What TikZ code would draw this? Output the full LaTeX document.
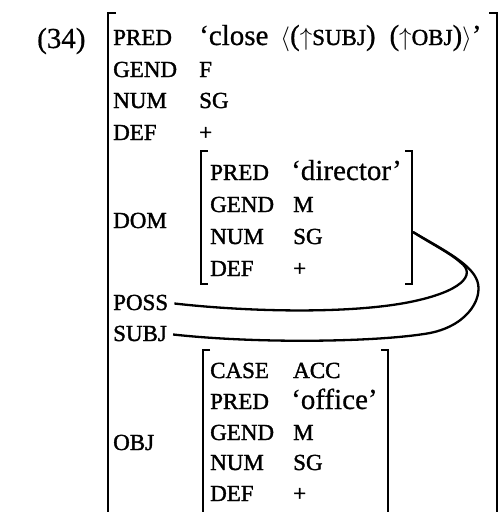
\documentclass[tikz,border=0pt]{standalone}
\usepackage{fontspec}
\setmainfont{Liberation Serif}[FakeBold=0.6]
\newfontfamily\labfont{Liberation Serif}[FakeBold=1.5]
\newcommand{\lab}{\labfont\fontsize{23}{23}\selectfont}
\newcommand{\val}{\fontsize{29}{29}\selectfont}
\begin{document}
\begin{tikzpicture}[x=1pt,y=-1pt,
  attr/.style={anchor=base west,inner sep=0pt,font=\lab},
  vq/.style={anchor=base west,inner sep=0pt,font=\val},
  brk/.style={line width=1.8pt},
  link/.style={line width=2.3pt}]
\useasboundingbox (0,0) rectangle (501,512);
\clip (0,0) rectangle (501,512);

% example number
\node[vq] (num) at (37,48) {(34)};

% outer f-structure brackets
\draw[brk] (116,13) -- (108,13) -- (108,530);
\draw[brk] (489,13) -- (497,13) -- (497,530);

% outer attributes
\node[attr] (pred) at (113,45) {PRED};
\node[attr] (gend) at (113,77) {GEND};
\node[attr] (numb) at (113,108) {NUM};
\node[attr] (def) at (113,140) {DEF};
\node[attr] (dom) at (113,228) {DOM};
\node[attr] (poss) at (113,310) {POSS};
\node[attr] (subj) at (113,341) {SUBJ};
\node[attr] (obj) at (113,450) {OBJ};

% outer values
\node[vq] (predv) at (199,45)
  {‘close\hspace{12pt}$\langle$($\uparrow${\lab SUBJ})\hspace{14pt}($\uparrow${\lab OBJ})$\rangle$’};
\node[attr] (gendv) at (199,77) {F};
\node[attr] (numv) at (199,108) {SG};
\node[attr] (defv) at (199,140) {+};

% DOM f-structure
\draw[brk] (208,151) -- (201,151) -- (201,284) -- (208,284);
\draw[brk] (405,151) -- (412,151) -- (412,284) -- (405,284);
\node[attr] (dpred) at (210,180) {PRED};
\node[attr] (dgend) at (210,212) {GEND};
\node[attr] (dnum) at (210,244) {NUM};
\node[attr] (ddef) at (210,276) {DEF};
\node[vq] (dpredv) at (291,180) {‘director’};
\node[attr] (dgendv) at (293,212) {M};
\node[attr] (dnumv) at (293,244) {SG};
\node[attr] (ddefv) at (293,276) {+};

% OBJ f-structure
\draw[brk] (210,350) -- (203,350) -- (203,530);
\draw[brk] (381,350) -- (388,350) -- (388,530);
\node[attr] (ocase) at (210,378) {CASE};
\node[attr] (opred) at (210,409) {PRED};
\node[attr] (ogend) at (210,440) {GEND};
\node[attr] (onum) at (210,470) {NUM};
\node[attr] (odef) at (210,501) {DEF};
\node[attr] (ocasev) at (293,378) {ACC};
\node[vq] (opredv) at (291,409) {‘office’};
\node[attr] (ogendv) at (293,440) {M};
\node[attr] (onumv) at (293,470) {SG};
\node[attr] (odefv) at (293,501) {+};

% structure-sharing lines
\coordinate (share) at (413,232);
\draw[link] ([xshift=6pt,yshift=-1pt]poss.east) .. controls (250,312) and (350,314) .. (410,302)
  .. controls (460,292) and (478,275) .. (460,262)
  .. controls (450,253) and (430,243) .. (share);
\draw[link] ([xshift=6pt,yshift=-1pt]subj.east) .. controls (260,344) and (380,342) .. (430,333)
  .. controls (470,325) and (485,295) .. (476,278)
  .. controls (468,262) and (440,248) .. (share);
\end{tikzpicture}
\end{document}
